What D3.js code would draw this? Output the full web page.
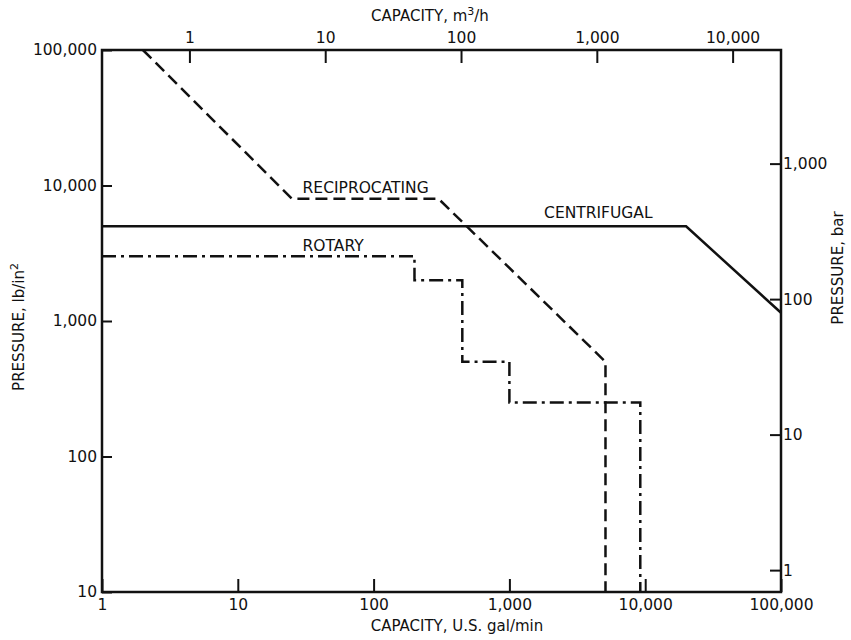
<!DOCTYPE html>
<html>
<head>
<meta charset="utf-8">
<script src="https://cdn.jsdelivr.net/npm/d3@7"></script>
<style>
  html, body { margin: 0; padding: 0; background: #fff; }
  svg { display: block; }
  text { font-family: "DejaVu Sans", sans-serif; fill: #111; }
</style>
</head>
<body>
<svg id="chart" width="851" height="640"></svg>
<script>
// ---- data (capacity in U.S. gal/min, pressure in lb/in^2) ----
const centrifugal = [[1, 5000], [20000, 5000], [100000, 1150]];
const reciprocating = [[2, 100000], [25, 8000], [300, 8000], [5100, 500], [5100, 10]];
const rotary = [[1, 3000], [200, 3000], [200, 2000], [450, 2000], [450, 500],
                [1000, 500], [1000, 250], [9200, 250], [9200, 10]];

const gpmTicks = [1, 10, 100, 1000, 10000, 100000];
const m3hTicks = [1, 10, 100, 1000, 10000];
const psiTicks = [10, 100, 1000, 10000, 100000];
const barTicks = [1, 10, 100, 1000];

const seriesLabels = [
  { text: "RECIPROCATING", at: [30, 8000], dy: -6 },
  { text: "CENTRIFUGAL", at: [1800, 5000], dy: -8 },
  { text: "ROTARY", at: [30, 3000], dy: -5 }
];

const GPM_PER_M3H = 4.4029;   // 1 m3/h = 4.4029 US gal/min
const PSI_PER_BAR = 14.5038;

// ---- layout ----
const svg = d3.select("#chart");
const L = 102, R = 781, T = 50, B = 592;

const x = d3.scaleLog().domain([1, 100000]).range([L, R]);
const y = d3.scaleLog().domain([10, 100000]).range([B, T]);
const xTop = d3.scaleLog().domain([1 / GPM_PER_M3H, 100000 / GPM_PER_M3H]).range([L, R]);
const yRight = d3.scaleLog().domain([10 / PSI_PER_BAR, 100000 / PSI_PER_BAR]).range([B, T]);

const fmt = d3.format(",");
const FS = "15.5px";

function styleAxis(g) {
  g.select(".domain").remove();
  g.selectAll(".tick line").attr("stroke", "#111").attr("stroke-width", 2);
  g.selectAll(".tick text").style("font-size", FS).attr("fill", "#111")
    .style("font-family", "DejaVu Sans, sans-serif");
}

svg.append("g").attr("transform", `translate(0,${B})`)
  .call(d3.axisBottom(x).tickValues(gpmTicks).tickFormat(fmt).tickSize(-13).tickPadding(7))
  .call(styleAxis);

svg.append("g").attr("transform", `translate(0,${T})`)
  .call(d3.axisTop(xTop).tickValues(m3hTicks).tickFormat(fmt).tickSize(-13).tickPadding(7))
  .call(styleAxis);

svg.append("g").attr("transform", `translate(${L},0)`)
  .call(d3.axisLeft(y).tickValues(psiTicks).tickFormat(fmt).tickSize(-10).tickPadding(5))
  .call(styleAxis);

svg.append("g").attr("transform", `translate(${R},0)`)
  .call(d3.axisRight(yRight).tickValues(barTicks).tickFormat(fmt).tickSize(-11).tickPadding(2))
  .call(styleAxis);

// frame
svg.append("rect")
  .attr("x", L).attr("y", T).attr("width", R - L).attr("height", B - T)
  .attr("fill", "none").attr("stroke", "#111").attr("stroke-width", 2.5);

// ---- series ----
const line = d3.line().x(d => x(d[0])).y(d => y(d[1]));

svg.append("path").datum(centrifugal).attr("d", line)
  .attr("fill", "none").attr("stroke", "#111").attr("stroke-width", 2.5);

svg.append("path").datum(reciprocating).attr("d", line)
  .attr("fill", "none").attr("stroke", "#111").attr("stroke-width", 2.5)
  .attr("stroke-dasharray", "12,6");

svg.append("path").datum(rotary).attr("d", line)
  .attr("fill", "none").attr("stroke", "#111").attr("stroke-width", 2.5)
  .attr("stroke-dasharray", "14,5,3,5");

svg.selectAll("text.series").data(seriesLabels).enter().append("text")
  .attr("class", "series")
  .attr("x", d => x(d.at[0]))
  .attr("y", d => y(d.at[1]) + d.dy)
  .style("font-size", FS)
  .text(d => d.text);

// ---- axis titles ----
function titleWithSup(sel, base, sup, tail) {
  sel.append("tspan").text(base);
  sel.append("tspan").attr("dy", -6).style("font-size", "11px").text(sup);
  if (tail) sel.append("tspan").attr("dy", 6).text(tail);
}

svg.append("text").attr("x", 430).attr("y", 21).attr("text-anchor", "middle")
  .style("font-size", "15px")
  .call(titleWithSup, "CAPACITY, m", "3", "/h");

svg.append("text").attr("x", 457).attr("y", 631).attr("text-anchor", "middle")
  .style("font-size", "15px").text("CAPACITY, U.S. gal/min");

svg.append("text").attr("transform", "translate(24,327) rotate(-90)")
  .attr("text-anchor", "middle").style("font-size", "15px")
  .call(titleWithSup, "PRESSURE, lb/in", "2", null);

svg.append("text").attr("transform", "translate(843,268) rotate(-90)")
  .attr("text-anchor", "middle").style("font-size", "15px").text("PRESSURE, bar");
</script>
</body>
</html>
